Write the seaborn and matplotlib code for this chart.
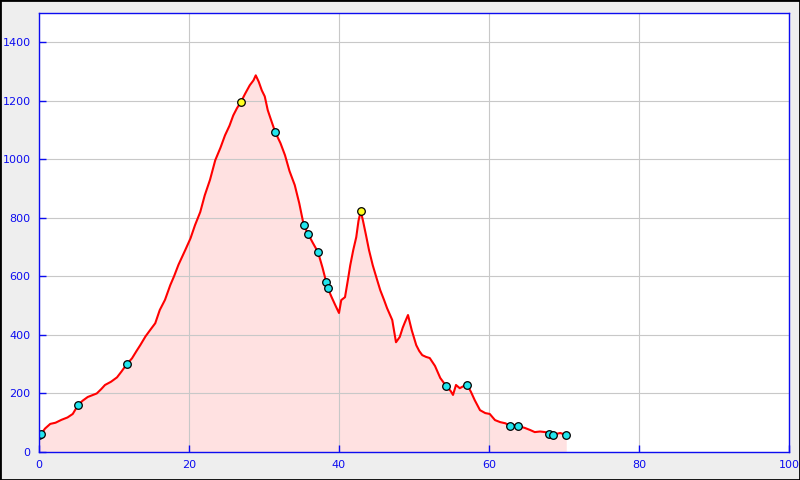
import matplotlib
matplotlib.use("Agg")
import matplotlib.pyplot as plt
from matplotlib.patches import Rectangle
import seaborn as sns
import pandas as pd

# distance (km) and elevation (m)
dist = [0, 0.3, 0.8, 1.5, 2.2, 3.0, 3.8, 4.5, 5.2, 5.8, 6.5, 7.2, 7.7, 8.3, 8.8, 9.6,
        10.4, 11.0, 11.7, 12.4, 13.0, 13.5, 14.2, 14.8, 15.5, 16.1, 16.8, 17.5, 18.0,
        18.6, 19.5, 20.2, 20.8, 21.5, 22.1, 22.8, 23.5, 24.2, 24.8, 25.4, 25.9, 26.4,
        26.9, 27.5, 28.1, 28.6, 28.9, 29.3, 29.7, 30.1, 30.5, 31.0, 31.5, 32.2, 32.8,
        33.4, 34.1, 34.7, 35.3, 35.9, 36.5, 37.2, 37.8, 38.3, 38.5, 39.0, 39.5, 40.0,
        40.3, 40.8, 41.2, 41.5, 41.9, 42.3, 42.6, 42.9, 43.2, 43.6, 44.0, 44.5, 45.0,
        45.5, 46.0, 46.4, 47.1, 47.6, 48.1, 48.5, 48.8, 49.2, 49.7, 50.3, 50.7, 51.1,
        51.6, 52.1, 52.8, 53.5, 54.3, 54.9, 55.2, 55.6, 56.1, 56.6, 57.1, 57.6, 58.1,
        58.8, 59.5, 60.1, 60.8, 61.5, 62.2, 62.8, 63.4, 63.9, 64.8, 65.5, 66.1, 66.8,
        67.5, 68.0, 68.5, 69.0, 69.5, 70.3]
elev = [58, 62, 80, 96, 100, 110, 118, 130, 160, 175, 188, 195, 200, 215, 229, 240,
        255, 275, 300, 320, 345, 365, 395, 416, 440, 485, 520, 570, 600,
        640, 690, 730, 775, 820, 877, 930, 997, 1040, 1082, 1115, 1150, 1175,
        1195, 1225, 1253, 1270, 1287, 1265, 1236, 1215, 1168, 1130, 1093, 1055, 1014,
        960, 912, 850, 775, 744, 715, 683, 630, 580, 560, 530, 502, 475,
        519, 529, 590, 638, 690, 734, 790, 823, 790, 741, 690, 638, 595,
        553, 520, 492, 451, 375, 393, 425, 444, 468, 416, 365, 345, 331,
        325, 321, 294, 253, 225, 208, 195, 229, 218, 225, 229, 205, 177,
        143, 133, 130, 109, 102, 98, 89, 92, 89, 82, 75, 68, 70,
        68, 61, 58, 62, 65, 58]

# waypoint markers
cyan_x = [0.0, 0.3, 5.2, 11.7, 31.5, 35.3, 35.9, 37.2, 38.3, 38.5, 54.3, 57.1,
          62.8, 63.9, 68.0, 68.5, 70.3]
cyan_y = [58, 62, 160, 300, 1093, 775, 744, 683, 580, 560, 225, 229,
          89, 89, 61, 58, 58]
yellow_x = [26.9, 42.9]
yellow_y = [1195, 823]

xticks = [0, 20, 40, 60, 80, 100]
yticks = [0, 200, 400, 600, 800, 1000, 1200, 1400]

blue = "#0c0cf0"
df = pd.DataFrame({"dist": dist, "elev": elev})

fig = plt.figure(figsize=(8, 4.8), dpi=100, facecolor="#eeeeee")
ax = fig.add_axes([39 / 800, 28 / 480, 750 / 800, 439 / 480])
ax.set_facecolor("white")

ax.fill_between(df["dist"], df["elev"], 0, color="#ffe1e1", zorder=1, linewidth=0)
sns.lineplot(data=df, x="dist", y="elev", ax=ax, color="red", linewidth=1.5,
             zorder=3, estimator=None, sort=False)
sns.scatterplot(x=cyan_x, y=cyan_y, ax=ax, color="#22e5ee", edgecolor="black",
                s=30, linewidth=0.9, zorder=4)
sns.scatterplot(x=yellow_x, y=yellow_y, ax=ax, color="#ffff22", edgecolor="black",
                s=30, linewidth=0.9, zorder=4)

ax.set_xlim(0, 100)
ax.set_ylim(0, 1500)
ax.set_xticks(xticks)
ax.set_yticks(yticks)
ax.grid(True, color="#c8c8c8", linewidth=0.8)
ax.set_axisbelow(False)
for gl in ax.get_xgridlines() + ax.get_ygridlines():
    gl.set_zorder(2)
ax.set_xlabel("")
ax.set_ylabel("")
for s in ax.spines.values():
    s.set_color(blue)
    s.set_linewidth(1.0)
    s.set_zorder(5)
ax.tick_params(direction="in", colors=blue, length=5, width=1.0, labelsize=8, pad=6)

# black frame around the figure
fig.patches.append(Rectangle((0, 0), 1, 1, transform=fig.transFigure, fill=False,
                             edgecolor="black", linewidth=2, zorder=10))

fig.savefig("out.png", dpi=100, facecolor="#eeeeee")
